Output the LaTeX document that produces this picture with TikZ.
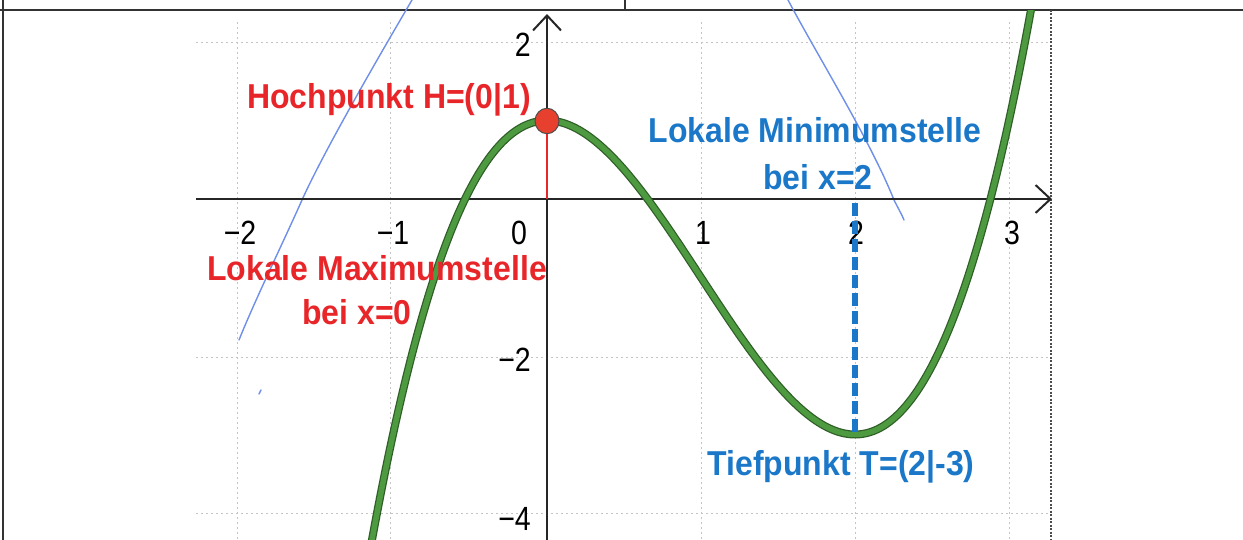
\documentclass[tikz,border=0pt]{standalone}
\usepackage{fontspec}
\setmainfont{Liberation Sans}
\usetikzlibrary{arrows.meta}
\definecolor{hred}{HTML}{E8262A}
\definecolor{dotred}{HTML}{E8402F}
\definecolor{tblue}{HTML}{1B78C9}
\definecolor{pen}{HTML}{6F8FEA}
\definecolor{gdark}{HTML}{2F5E27}
\definecolor{glight}{HTML}{4E9A40}
\definecolor{gridc}{HTML}{C4C4C4}
\tikzset{
  lbl/.style={font=\fontsize{32}{36}\selectfont\bfseries, inner sep=0pt, yscale=1.08},
  tick/.style={font=\fontsize{30}{34}\selectfont, inner sep=0pt, xscale=0.95, yscale=1.12},
  gridline/.style={gridc, line width=1pt, dash pattern=on 2pt off 3pt},
  axis/.style={black!85, line width=2.8pt, -{Straight Barb[length=15pt,width=28pt,line width=2pt]}},
  frame/.style={black!80, line width=2pt},
  penline/.style={pen, line width=1.4pt, line cap=round},
}
\begin{document}
\begin{tikzpicture}[x=1pt,y=-1pt]
\useasboundingbox (0,0) rectangle (1243,540);
\fill[white] (0,0) rectangle (1243,540);
% frame
\draw[frame] (0,10) -- (1243,10);
\draw[frame] (3,0) -- (3,540);
\draw[frame] (625,0) -- (625,10);
% grid
\foreach \gx in {237,390,701,855,1009} \draw[gridline] (\gx,22) -- (\gx,540);
\foreach \gy in {43,357,513} \draw[gridline] (196,\gy) -- (1051,\gy);
\draw[black!70, line width=1.2pt, dash pattern=on 2pt off 1.5pt] (1051,10) -- (1051,540);
% pen strokes
\draw[penline] (412,0) .. controls (362,85) and (320,160) .. (302,200) .. controls (282,245) and (255,300) .. (239,340);
\draw[penline] (261,390) -- (259,394);
\draw[penline] (788,0) .. controls (820,60) and (870,140) .. (894,200) .. controls (898,208) and (902,215) .. (904,220);
% axes
\coordinate (xs) at (196,199);
\coordinate (xe) at (1052,199);
\coordinate (ys) at (547,540);
\coordinate (ye) at (547,14);
\draw[axis] (xs) -- (xe);
\draw[axis] (ys) -- (ye);
% tick labels
\node[tick] (tm2) at (240,233) {−2};
\node[tick] (tm1) at (393,233) {−1};
\node[tick] (t0) at (519,233) {0};
\node[tick] (t1) at (703,233) {1};
\node[tick] (t2) at (856,233) {2};
\node[tick] (t3) at (1012,233) {3};
\node[tick, anchor=east] (ty2) at (531,45) {2};
\node[tick, anchor=east] (tym2) at (531,360) {−2};
\node[tick, anchor=east] (tym4) at (531,519) {−4};
% curve
\begin{scope}
\clip (0,11) rectangle (1243,540);
\draw[gdark, line width=8pt] plot[domain=-1.17:3.17, samples=120, smooth] ({547+154*\x},{199-78.5*(\x*\x*\x-3*\x*\x+1)});
\draw[glight, line width=5.5pt] plot[domain=-1.17:3.17, samples=120, smooth] ({547+154*\x},{199-78.5*(\x*\x*\x-3*\x*\x+1)});
\end{scope}
% minimum marker
\coordinate (mx) at (855,203);
\coordinate (T) at (855,435);
\draw[tblue, line width=6pt, dash pattern=on 13pt off 5pt] (mx) -- (T);
% maximum marker
\coordinate (hx) at (547,199);
\node[circle, fill=dotred, draw=black!70, line width=1pt, minimum width=24pt, minimum height=24pt, inner sep=0pt, yscale=1.06] (H) at (547,121) {};
\draw[hred, line width=2.6pt] (H.south) -- (hx);
% labels
\node[lbl, text=hred] (hl) at (389,100) {Hochpunkt H=(0|1)};
\node[lbl, text=hred] (maxl1) at (377,268) {Lokale Maximumstelle};
\node[lbl, text=hred] (maxl2) at (357,312) {bei x=0};
\node[lbl, text=tblue] (minl1) at (815,130) {Lokale Minimumstelle};
\node[lbl, text=tblue] (minl2) at (818,177) {bei x=2};
\node[lbl, text=tblue] (tl) at (841,467) {Tiefpunkt T=(2|-3)};
\end{tikzpicture}
\end{document}
